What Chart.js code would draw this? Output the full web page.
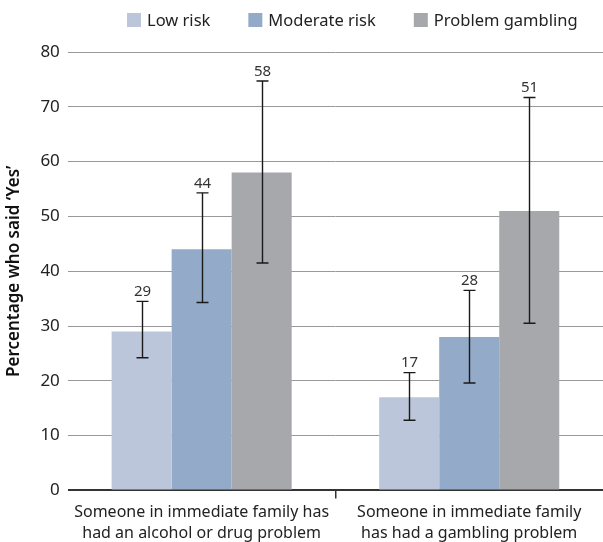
<!DOCTYPE html>
<html>
<head>
<meta charset="utf-8">
<script src="https://cdn.jsdelivr.net/npm/chart.js@4"></script>
<style>
  html, body { margin: 0; padding: 0; background: #fff; }
  #wrap { width: 603px; height: 542px; }
</style>
</head>
<body>
<div id="wrap"><canvas id="chart"></canvas></div>
<script>
'use strict';

// ── Data ──────────────────────────────────────────────────────────────────────

const categories = [
  ['Someone in immediate family has', 'had an alcohol or drug problem'],
  ['Someone in immediate family', 'has had a gambling problem'],
];
const seriesNames = ['Low risk', 'Moderate risk', 'Problem gambling'];

const lowRisk         = [29, 17];
const moderateRisk    = [44, 28];
const problemGambling = [58, 51];

// 95% confidence intervals [lower, upper]
const lowRiskCI         = [[24.2, 34.5], [12.8, 21.5]];
const moderateRiskCI    = [[34.3, 54.3], [19.6, 36.5]];
const problemGamblingCI = [[41.5, 74.7], [30.5, 71.7]];

const yTicks = [0, 10, 20, 30, 40, 50, 60, 70, 80];

// ── Styling ───────────────────────────────────────────────────────────────────

const FONT = "'Noto Sans', 'Open Sans', sans-serif";
const colors = ['#bcc6da', '#94aac9', '#a7a8ab'];

Chart.defaults.font.family = FONT;
Chart.defaults.color = '#222';

// ── Plugins ───────────────────────────────────────────────────────────────────

const errorBars = {
  id: 'errorBars',
  afterDatasetsDraw(chart) {
    const { ctx, scales: { y } } = chart;
    ctx.save();
    chart.data.datasets.forEach((ds, i) => {
      const meta = chart.getDatasetMeta(i);
      meta.data.forEach((bar, j) => {
        const [lo, hi] = ds.ci[j];
        const yLo = y.getPixelForValue(lo);
        const yHi = y.getPixelForValue(hi);
        const x = Math.round(bar.x) + 0.5;
        ctx.strokeStyle = '#1a1a1a';
        ctx.lineWidth = 1.4;
        ctx.beginPath();
        ctx.moveTo(x, yLo); ctx.lineTo(x, yHi);
        ctx.moveTo(x - 6, yLo); ctx.lineTo(x + 6, yLo);
        ctx.moveTo(x - 6, yHi); ctx.lineTo(x + 6, yHi);
        ctx.stroke();

        ctx.fillStyle = '#333';
        ctx.font = `15px ${FONT}`;
        ctx.textAlign = 'center';
        ctx.textBaseline = 'bottom';
        ctx.fillText(String(ds.data[j]), x, yHi - 2);
      });
    });
    ctx.restore();
  },
};

// legend row drawn by hand so box/text gaps match the original
const topLegend = {
  id: 'topLegend',
  afterDraw(chart, args, opts) {
    const { ctx } = chart;
    ctx.save();
    ctx.font = `${opts.fontSize}px ${FONT}`;
    ctx.textBaseline = 'middle';
    ctx.textAlign = 'left';
    let x = opts.x;
    chart.data.datasets.forEach(ds => {
      ctx.fillStyle = ds.backgroundColor;
      ctx.fillRect(x, opts.y - opts.box / 2, opts.box, opts.box);
      x += opts.box + opts.gap;
      ctx.fillStyle = '#222';
      ctx.fillText(ds.label, x, opts.y + 1);
      x += ctx.measureText(ds.label).width + opts.itemGap;
    });
    ctx.restore();
  },
};

// ── Chart ─────────────────────────────────────────────────────────────────────

new Chart(document.getElementById('chart'), {
  type: 'bar',
  data: {
    labels: categories,
    datasets: [
      { label: seriesNames[0], data: lowRisk,         ci: lowRiskCI,         backgroundColor: colors[0] },
      { label: seriesNames[1], data: moderateRisk,    ci: moderateRiskCI,    backgroundColor: colors[1] },
      { label: seriesNames[2], data: problemGambling, ci: problemGamblingCI, backgroundColor: colors[2] },
    ],
  },
  options: {
    responsive: true,
    maintainAspectRatio: false,
    animation: false,
    layout: { padding: { top: 52, right: 0, bottom: -6, left: 4 } },
    datasets: { bar: { categoryPercentage: 0.673, barPercentage: 1.0 } },
    plugins: {
      legend: { display: false },
      tooltip: { enabled: false },
      topLegend: { x: 127, y: 20, box: 14, gap: 6, itemGap: 38, fontSize: 16.5 },
    },
    scales: {
      x: {
        grid: {
          offset: true,
          drawOnChartArea: false,
          drawTicks: true,
          tickLength: 8,
          lineWidth: 1.5,
          color: ctx => (ctx.index === 1 ? '#333' : 'rgba(0,0,0,0)'),
        },
        border: { display: false },
        ticks: {
          color: '#222',
          font: { size: 16, lineHeight: 1.3 },
          padding: 4,
          maxRotation: 0,
          autoSkip: false,
        },
      },
      y: {
        min: 0,
        max: 80,
        afterBuildTicks: axis => { axis.ticks = yTicks.map(v => ({ value: v })); },
        grid: {
          drawTicks: false,
          color: ctx => (ctx.tick && ctx.tick.value === 0 ? '#333' : '#999'),
          lineWidth: ctx => (ctx.tick && ctx.tick.value === 0 ? 2 : 1),
        },
        border: { display: false },
        ticks: {
          color: '#222',
          font: { size: 17 },
          padding: 8,
        },
        title: {
          display: true,
          text: 'Percentage who said ‘Yes’',
          color: '#111',
          font: { size: 17, weight: '600' },
          padding: { top: 0, bottom: 8 },
        },
      },
    },
  },
  plugins: [errorBars, topLegend],
});
</script>
</body>
</html>
